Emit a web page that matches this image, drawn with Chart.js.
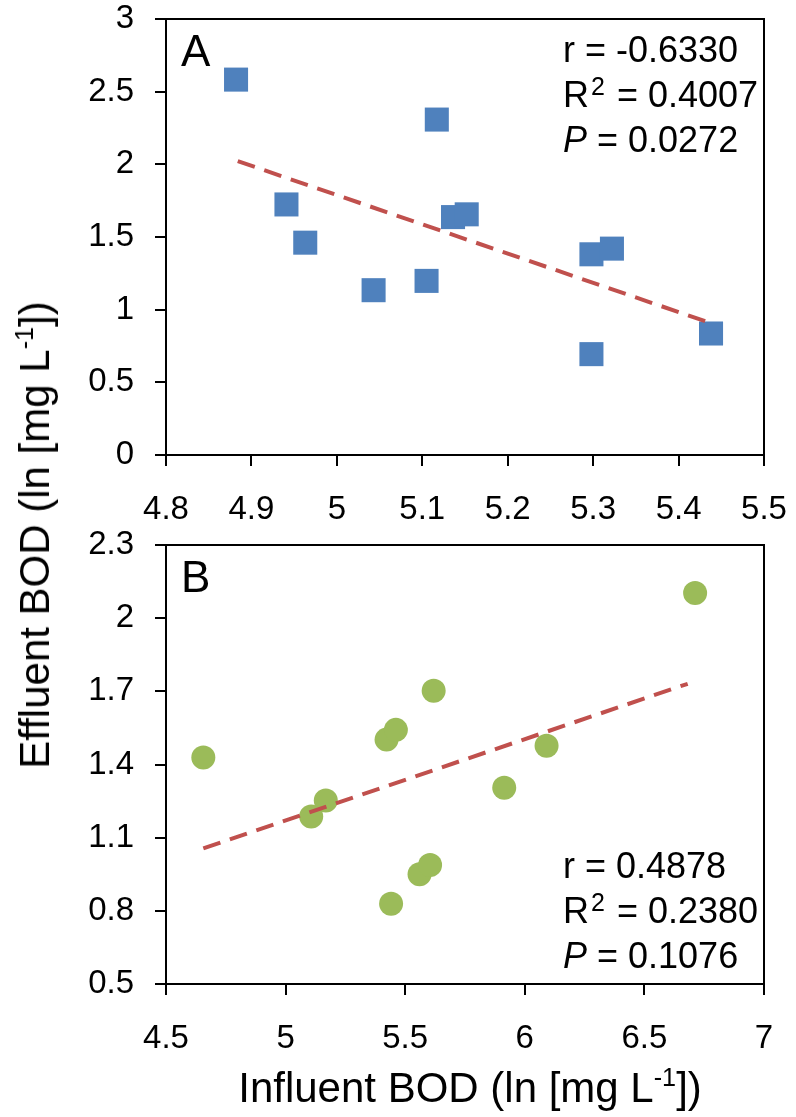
<!DOCTYPE html>
<html>
<head>
<meta charset="utf-8">
<script src="https://cdn.jsdelivr.net/npm/chart.js@4.4.1/dist/chart.umd.min.js"></script>
<style>
  body { margin: 0; background: #fff; }
  #wrap { position: relative; width: 796px; height: 1117px; overflow: hidden; font-family: "Liberation Sans", Arial, sans-serif; color: #000; }
  canvas { position: absolute; left: 0; }
  #chartA { top: 0; }
  #chartB { top: 510px; }
  .title { position: absolute; font-size: 42px; line-height: 42px; white-space: nowrap; }
  .title sup { font-size: 0.6em; line-height: 0; vertical-align: 0.65em; }
  #yTitle { left: 35px; top: 535px; transform: translate(-50%, -50%) rotate(-90deg); }
  #xTitle { left: 470px; top: 1067px; transform: translateX(-50%); }
</style>
</head>
<body>
<div id="wrap">
  <canvas id="chartA" width="796" height="540"></canvas>
  <canvas id="chartB" width="796" height="607"></canvas>
  <div class="title" id="yTitle">Effluent BOD (ln [mg L<sup>-1</sup>])</div>
  <div class="title" id="xTitle">Influent BOD (ln [mg L<sup>-1</sup>])</div>
</div>
<script>
// panel A: squares
const influentA = [4.882, 5.117, 4.941, 4.963, 5.043, 5.105, 5.136, 5.152, 5.298, 5.322, 5.298, 5.438];
const effluentA = [2.583, 2.308, 1.724, 1.461, 1.134, 1.198, 1.637, 1.656, 1.381, 1.420, 0.694, 0.836];
const trendXA = [4.884, 5.438];
const trendYA = [2.022, 0.907];
const xTicksA = [4.8, 4.9, 5, 5.1, 5.2, 5.3, 5.4, 5.5];
const yTicksA = [0, 0.5, 1, 1.5, 2, 2.5, 3];
const statsA = { r: "-0.6330", r2: "0.4007", p: "0.0272" };

// panel B: circles
const influentB = [4.656, 5.107, 5.168, 5.422, 5.461, 5.619, 5.441, 5.560, 5.604, 5.914, 6.091, 6.712];
const effluentB = [1.429, 1.187, 1.252, 1.502, 1.542, 1.702, 0.829, 0.950, 0.988, 1.305, 1.477, 2.103];
const trendXB = [4.656, 6.681];
const trendYB = [1.056, 1.731];
const xTicksB = [4.5, 5, 5.5, 6, 6.5, 7];
const yTicksB = [0.5, 0.8, 1.1, 1.4, 1.7, 2, 2.3];
const statsB = { r: "0.4878", r2: "0.2380", p: "0.1076" };

const FONT = '"Liberation Sans", Arial, sans-serif';
Chart.defaults.font.family = FONT;
Chart.defaults.color = "#000";

function pairs(xs, ys) {
  return xs.map((x, i) => ({ x: x, y: ys[i] }));
}

// frame box + panel letter + stats text
const notesPlugin = {
  id: "notes",
  afterDraw(chart, args, opts) {
    const ctx = chart.ctx;
    const a = chart.chartArea;
    ctx.save();
    ctx.strokeStyle = "#000";
    ctx.lineWidth = 2;
    ctx.strokeRect(a.left, a.top, a.right - a.left, a.bottom - a.top);

    ctx.fillStyle = "#000";
    ctx.textBaseline = "alphabetic";
    ctx.textAlign = "left";
    ctx.font = "44px " + FONT;
    ctx.fillText(opts.letter, a.left + 15, a.top + 47);

    const x = a.left + 397;
    let y = opts.top ? a.top + 43 : a.bottom - 106;
    const step = 45;
    const s = opts.stats;
    ctx.font = "36px " + FONT;
    ctx.fillText("r = " + s.r, x, y);

    y += step;
    ctx.fillText("R", x, y);
    let w = ctx.measureText("R").width;
    ctx.font = "25px " + FONT;
    ctx.fillText("2", x + w + 2, y - 12);
    const w2 = ctx.measureText("2").width;
    ctx.font = "36px " + FONT;
    ctx.fillText(" = " + s.r2, x + w + w2 + 4, y);

    y += step;
    ctx.font = "italic 36px " + FONT;
    ctx.fillText("P", x, y);
    w = ctx.measureText("P").width;
    ctx.font = "36px " + FONT;
    ctx.fillText(" = " + s.p, x + w, y);
    ctx.restore();
  }
};

function makeChart(id, cfg) {
  const fmt = (v) => String(Number(v.toFixed(2)));
  return new Chart(document.getElementById(id), {
    type: "scatter",
    data: {
      datasets: [
        {
          type: "line",
          data: pairs(cfg.trendX, cfg.trendY),
          borderColor: "#C0504D",
          borderWidth: 4,
          borderDash: [18, 10],
          pointRadius: 0,
          fill: false,
          order: 0,
        },
        {
          data: pairs(cfg.xs, cfg.ys),
          pointStyle: cfg.style,
          pointRadius: cfg.radius,
          backgroundColor: cfg.color,
          borderColor: cfg.color,
          borderWidth: 0,
          order: 1,
        },
      ],
    },
    options: {
      responsive: false,
      animation: false,
      devicePixelRatio: 1,
      layout: { padding: { top: cfg.padTop, right: 32, left: 0, bottom: 0 } },
      plugins: {
        legend: { display: false },
        tooltip: { enabled: false },
        notes: { letter: cfg.letter, stats: cfg.stats, top: cfg.statsTop },
      },
      scales: {
        x: {
          type: "linear",
          min: cfg.xTicks[0],
          max: cfg.xTicks[cfg.xTicks.length - 1],
          afterBuildTicks: (s) => { s.ticks = cfg.xTicks.map((v) => ({ value: v })); },
          afterFit: (s) => { s.height = cfg.xHeight; s.paddingLeft = 0; s.paddingRight = 0; },
          grid: { drawOnChartArea: false, drawTicks: true, tickLength: 11, color: "#000", lineWidth: 2 },
          border: { color: "#000", width: 2 },
          ticks: { font: { size: 33 }, padding: 24, maxRotation: 0, autoSkip: false, callback: fmt },
        },
        y: {
          type: "linear",
          min: cfg.yTicks[0],
          max: cfg.yTicks[cfg.yTicks.length - 1],
          afterBuildTicks: (s) => { s.ticks = cfg.yTicks.map((v) => ({ value: v })); },
          afterFit: (s) => { s.width = 166; s.paddingTop = 0; s.paddingBottom = 0; },
          grid: { drawOnChartArea: false, drawTicks: true, tickLength: 11, color: "#000", lineWidth: 2 },
          border: { color: "#000", width: 2 },
          ticks: { font: { size: 33 }, padding: 21, autoSkip: false, callback: fmt },
        },
      },
    },
    plugins: [notesPlugin],
  });
}

makeChart("chartA", {
  xs: influentA, ys: effluentA, trendX: trendXA, trendY: trendYA,
  xTicks: xTicksA, yTicks: yTicksA, stats: statsA, letter: "A", statsTop: true,
  style: "rect", radius: 17, color: "#4F81BD", padTop: 19, xHeight: 85,
});

makeChart("chartB", {
  xs: influentB, ys: effluentB, trendX: trendXB, trendY: trendYB,
  xTicks: xTicksB, yTicks: yTicksB, stats: statsB, letter: "B", statsTop: false,
  style: "circle", radius: 12, color: "#9BBB59", padTop: 35, xHeight: 133,
});
</script>
</body>
</html>
